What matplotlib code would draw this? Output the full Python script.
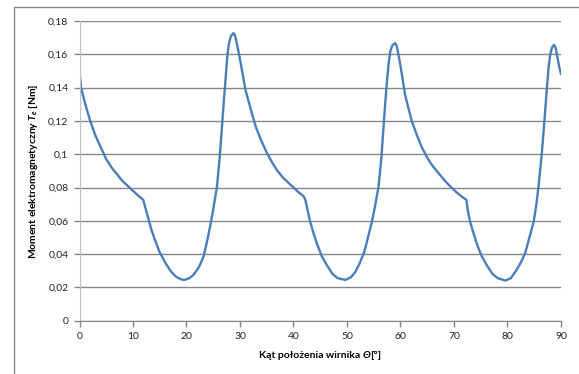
import matplotlib.pyplot as plt
from matplotlib.lines import Line2D

# Angle [deg] and torque [Nm]
angle = [
    0.0, 0.3, 1.0, 2.0, 3.0, 4.0, 5.0, 6.0, 7.0, 8.0, 9.0, 10.0, 11.0, 11.9,
    12.3, 12.9, 13.5, 14.1, 15.0, 16.0, 17.0, 18.0, 19.0, 19.6, 20.5, 21.3,
    22.3, 23.2, 24.0, 24.5, 25.0, 25.7, 26.2, 26.6, 27.0, 27.3, 27.6, 27.9,
    28.3, 28.8, 29.1, 29.5, 30.0, 31.0,
    32.0, 33.0, 34.0, 35.0, 36.0, 37.0, 38.0, 39.0, 40.0, 41.0, 41.9, 42.2,
    42.6, 43.1, 43.7, 44.3, 45.3, 46.3, 47.3, 48.3, 49.7, 50.7, 51.5, 52.3,
    53.2, 54.0, 54.6, 55.2, 55.9, 56.4, 56.8, 57.2, 57.5, 57.8, 58.1, 58.5,
    59.0, 59.3, 59.6, 60.0, 60.9,
    62.1, 63.0, 64.0, 65.2, 66.0, 67.0, 68.4, 69.5, 70.5, 71.8, 72.3, 72.6,
    73.0, 73.7, 74.4, 75.2, 76.2, 77.2, 78.2, 79.6, 80.6, 81.6, 82.5, 83.3,
    84.1, 84.9, 85.4, 85.8, 86.4, 86.9, 87.3, 87.7, 88.0, 88.3, 88.7, 89.0,
    89.4, 89.7, 90.0,
]
torque = [
    0.149, 0.140, 0.131, 0.120, 0.111, 0.104, 0.097, 0.092, 0.088, 0.084,
    0.081, 0.078, 0.075, 0.0727, 0.068, 0.061, 0.054, 0.0486, 0.041, 0.035,
    0.030, 0.0265, 0.0248, 0.0245, 0.0255, 0.0275, 0.032, 0.0386, 0.050,
    0.058, 0.067, 0.0807, 0.098, 0.115, 0.133, 0.145, 0.158, 0.166, 0.171,
    0.1727, 0.171, 0.165, 0.157, 0.139,
    0.127, 0.116, 0.108, 0.101, 0.095, 0.090, 0.086, 0.083, 0.080, 0.077,
    0.0747, 0.0727, 0.067, 0.0596, 0.053, 0.047, 0.0386, 0.033, 0.028,
    0.0255, 0.0245, 0.026, 0.029, 0.034, 0.041, 0.051, 0.0587, 0.068, 0.0807,
    0.097, 0.115, 0.133, 0.145, 0.155, 0.162, 0.1655, 0.1667, 0.165, 0.160,
    0.153, 0.135,
    0.120, 0.112, 0.104, 0.0968, 0.093, 0.089, 0.0837, 0.080, 0.077, 0.0737,
    0.0727, 0.066, 0.0596, 0.052, 0.045, 0.0386, 0.033, 0.028, 0.0255,
    0.0241, 0.0255, 0.030, 0.035, 0.0406, 0.050, 0.0596, 0.070, 0.0807,
    0.100, 0.120, 0.137, 0.153, 0.160, 0.164, 0.1657, 0.164, 0.157, 0.152,
    0.148,
]
x_ticks = [0, 10, 20, 30, 40, 50, 60, 70, 80, 90]
y_ticks = [0, 0.02, 0.04, 0.06, 0.08, 0.1, 0.12, 0.14, 0.16, 0.18]
y_tick_labels = ["0", "0,02", "0,04", "0,06", "0,08", "0,1", "0,12", "0,14", "0,16", "0,18"]
x_label_parts = ["Kąt położenia wirnika ", "Θ", "[°]"]

plt.rcParams["font.family"] = ["Lato", "DejaVu Sans"]
plt.rcParams["mathtext.fontset"] = "custom"
plt.rcParams["mathtext.rm"] = "Lato:bold"
plt.rcParams["mathtext.it"] = "Lato:italic:bold"

W, H = 579, 374
fig = plt.figure(figsize=(W / 100, H / 100), dpi=100)
ax = fig.add_axes([79.5 / W, (H - 320.7) / H, (561 - 79.5) / W, 299.7 / H])

ax.plot(angle, torque, color="#4a7ebb", linewidth=1.7,
        solid_joinstyle="round", solid_capstyle="round")

ax.set_xlim(0, 90)
ax.set_ylim(0, 0.18)
ax.set_xticks(x_ticks)
ax.set_yticks(y_ticks)
ax.set_yticklabels(y_tick_labels)
ax.yaxis.grid(True, color="#868686", linewidth=1.0)
ax.set_axisbelow(True)

for side in ["top", "right"]:
    ax.spines[side].set_visible(False)
ax.spines["left"].set_color("#bfbfbf")
ax.spines["bottom"].set_color("#868686")
ax.tick_params(axis="both", colors="#868686", labelcolor="#222222", labelsize=7.5,
               length=4, width=1.0)
ax.tick_params(axis="x", pad=4)
ax.tick_params(axis="y", pad=4)

ax.set_ylabel(r"Moment elektromagnetyczny $T_e$ [Nm]", fontsize=7.5,
              fontweight="bold", labelpad=6)

# x label built from pieces so the angle symbol can be italic
styles = ["normal", "italic", "normal"]
pieces = [fig.text(0, 1 - 358 / H, s, fontsize=7.5, fontweight="bold", style=st,
                   ha="left", va="baseline")
          for s, st in zip(x_label_parts, styles)]
renderer = fig.canvas.get_renderer()
widths = [p.get_window_extent(renderer).width for p in pieces]
x0 = 320 - sum(widths) / 2
for p, w in zip(pieces, widths):
    p.set_x(x0 / W)
    x0 += w

# chart area border (only top and left edges visible in the screenshot)
fig.add_artist(Line2D([13.5 / W, 13.5 / W, 1.0], [0.0, 1 - 7 / H, 1 - 7 / H],
                      transform=fig.transFigure, color="#868686", linewidth=1.0))

fig.savefig("out.png", dpi=100)
